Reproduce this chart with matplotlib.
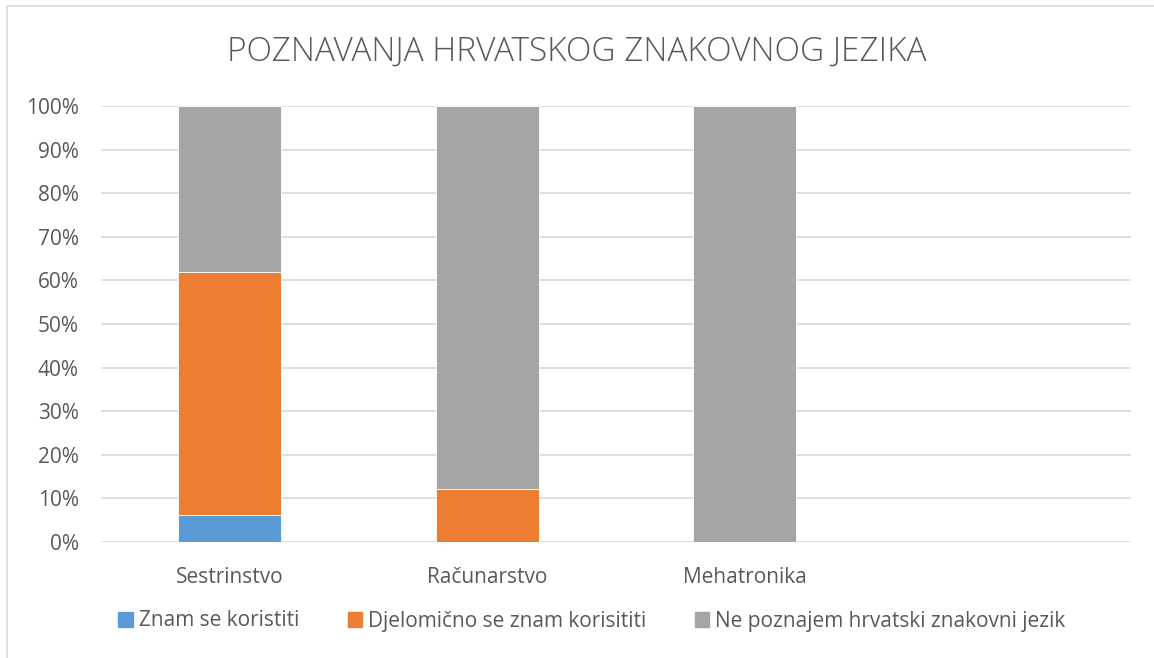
import matplotlib.pyplot as plt
import matplotlib.patches as mpatches
import numpy as np

plt.rcParams['font.family'] = ['Open Sans', 'DejaVu Sans']

# data (percent)
categories = ['Sestrinstvo', 'Računarstvo', 'Mehatronika', '']
znam = [6.25, 0, 0, 0]
djelomicno = [55.6, 12.1, 0, 0]
ne_poznajem = [38.15, 87.9, 100, 0]
series_names = ['Znam se koristiti', 'Djelomično se znam korisititi',
                'Ne poznajem hrvatski znakovni jezik']
colors = ['#5B9BD5', '#ED7D31', '#A5A5A5']
text_color = '#595959'

fig = plt.figure(figsize=(11.54, 6.58), dpi=100)
ax = fig.add_axes([101 / 1154, 116 / 658, 1030 / 1154, 436 / 658])

x = np.arange(len(categories))
bottom = np.zeros(len(categories))
for vals, name, c in zip([znam, djelomicno, ne_poznajem], series_names, colors):
    ax.bar(x, vals, width=0.4, bottom=bottom, color=c, label=name,
           edgecolor='white', linewidth=0.6, zorder=3)
    bottom += np.array(vals)

ax.set_xlim(-0.5, len(categories) - 0.5)
ax.set_ylim(0, 100)
ax.set_yticks(np.arange(0, 101, 10))
ax.set_yticklabels([f'{v}%' for v in range(0, 101, 10)])
ax.set_xticks(x)
ax.set_xticklabels(categories)
ax.tick_params(axis='y', length=0, pad=16, labelsize=15, colors=text_color)
ax.tick_params(axis='x', length=0, pad=18, labelsize=15, colors=text_color)
ax.grid(axis='y', color='#D9D9D9', linewidth=1.2, zorder=0)
for s in ax.spines.values():
    s.set_visible(False)

fig.text(0.5, 1 - 52 / 658, 'POZNAVANJA HRVATSKOG ZNAKOVNOG JEZIKA',
         ha='center', va='center', fontsize=24, color=text_color,
         fontweight='light')

handles = [mpatches.Patch(color=c, label=n) for c, n in zip(colors, series_names)]
fig.legend(handles=handles, loc='center', bbox_to_anchor=(592 / 1154, 1 - 621 / 658),
           ncol=3, frameon=False, fontsize=15, labelcolor=text_color,
           handlelength=0.7, handleheight=0.7, handletextpad=0.3,
           columnspacing=2.3)

# chart border (only left and top visible in the crop)
fig.patches.append(mpatches.Rectangle((7 / 1154, -0.1), 1.2, 1.1 - 6 / 658,
                                      transform=fig.transFigure, fill=False,
                                      edgecolor='#D9D9D9', linewidth=1.2))

fig.savefig('out.png', dpi=100)
